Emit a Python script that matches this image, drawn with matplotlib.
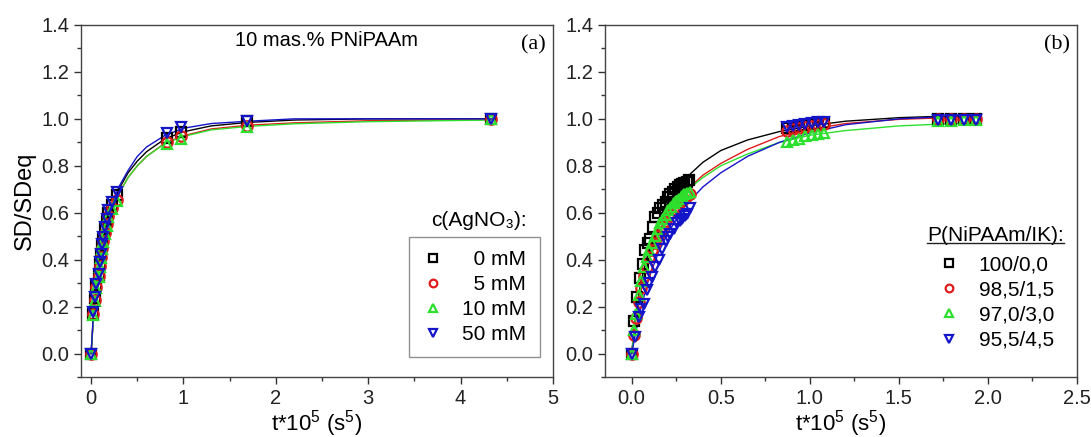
#!/usr/bin/env python

import numpy as np
import matplotlib
matplotlib.use("Agg")
import matplotlib.pyplot as plt
from matplotlib.ticker import MultipleLocator
from matplotlib.lines import Line2D

plt.rcParams['font.family'] = ['Liberation Sans', 'DejaVu Sans']
plt.rcParams['mathtext.fontset'] = 'custom'
plt.rcParams['mathtext.rm'] = 'Liberation Sans'
plt.rcParams['mathtext.it'] = 'Liberation Sans:italic'

# ---- panel (a): c(AgNO3) series, measured points ----
ta = [0, 0.025, 0.043, 0.056, 0.08, 0.092, 0.105, 0.118, 0.133, 0.15, 0.17,
      0.187, 0.224, 0.278, 0.82, 0.97, 1.69, 4.33]
a_0mM = [0, 0.17, 0.235, 0.29, 0.335, 0.38, 0.42, 0.46, 0.49, 0.53, 0.565,
         0.60, 0.635, 0.675, 0.92, 0.945, 0.99, 1.0]
a_5mM = [0, 0.17, 0.23, 0.285, 0.33, 0.375, 0.41, 0.45, 0.48, 0.515, 0.55,
         0.585, 0.62, 0.655, 0.90, 0.925, 0.97, 1.0]
a_10mM = [0, 0.165, 0.225, 0.28, 0.325, 0.37, 0.405, 0.445, 0.475, 0.51, 0.545,
          0.58, 0.615, 0.65, 0.895, 0.916, 0.965, 1.0]
a_50mM = [0, 0.176, 0.24, 0.295, 0.34, 0.39, 0.425, 0.468, 0.497, 0.54, 0.575,
          0.61, 0.646, 0.69, 0.94, 0.966, 0.99, 1.0]

# fitted curves (a)
tfa = [0, 0.025, 0.05, 0.1, 0.15, 0.2, 0.3, 0.4, 0.5, 0.6, 0.8, 1.0, 1.3, 1.7,
       2.2, 3.0, 4.33]
fa_0mM = [0, 0.16, 0.26, 0.40, 0.51, 0.59, 0.70, 0.77, 0.82, 0.86, 0.915,
          0.945, 0.97, 0.985, 0.995, 1.0, 1.0]
fa_5mM = [0, 0.155, 0.25, 0.39, 0.50, 0.58, 0.68, 0.75, 0.80, 0.84, 0.897,
          0.928, 0.957, 0.973, 0.983, 0.992, 0.997]
fa_10mM = [0, 0.155, 0.25, 0.39, 0.50, 0.58, 0.68, 0.75, 0.80, 0.84, 0.895,
           0.925, 0.953, 0.968, 0.979, 0.988, 0.995]
fa_50mM = [0, 0.17, 0.27, 0.41, 0.53, 0.61, 0.71, 0.78, 0.84, 0.88, 0.93,
           0.96, 0.98, 0.99, 1.0, 1.0, 1.0]

# ---- panel (b): P(NiPAAm/IK) series ----
tb_100 = [0, 0.011, 0.03, 0.045, 0.062, 0.077, 0.092, 0.105, 0.12, 0.133, 0.147,
          0.16, 0.175, 0.19, 0.204, 0.217, 0.232, 0.245, 0.258, 0.27, 0.283,
          0.296, 0.31, 0.324, 0.87, 0.905, 0.94, 0.975, 1.01, 1.045, 1.08,
          1.72, 1.79, 1.865, 1.935]
b_100 = [0, 0.14, 0.24, 0.32, 0.38, 0.44, 0.47, 0.49, 0.54, 0.58, 0.60, 0.62,
         0.635, 0.645, 0.665, 0.68, 0.69, 0.70, 0.71, 0.717, 0.722, 0.727,
         0.733, 0.74, 0.96, 0.965, 0.97, 0.973, 0.976, 0.98, 0.983,
         1.0, 1.0, 1.0, 1.0]
tb_gr = [0, 0.012, 0.025, 0.04, 0.055, 0.07, 0.085, 0.1, 0.115, 0.13, 0.145,
         0.16, 0.175, 0.19, 0.205, 0.22, 0.235, 0.25, 0.265, 0.28, 0.295, 0.31,
         0.325, 0.87, 0.905, 0.94, 0.975, 1.01, 1.045, 1.08,
         1.72, 1.79, 1.865, 1.935]
b_985 = [0, 0.08, 0.15, 0.22, 0.28, 0.33, 0.37, 0.41, 0.44, 0.47, 0.50, 0.52,
         0.545, 0.565, 0.585, 0.60, 0.615, 0.63, 0.64, 0.65, 0.66, 0.67, 0.68,
         0.95, 0.955, 0.96, 0.965, 0.97, 0.975, 0.978,
         1.0, 1.0, 1.0, 1.0]
b_970 = [0, 0.10, 0.17, 0.25, 0.31, 0.37, 0.41, 0.44, 0.47, 0.50, 0.53, 0.555,
         0.575, 0.59, 0.61, 0.625, 0.64, 0.65, 0.66, 0.67, 0.68, 0.685, 0.69,
         0.90, 0.91, 0.915, 0.925, 0.93, 0.935, 0.94,
         0.99, 0.99, 0.995, 0.995]
tb_955 = [0, 0.017, 0.039, 0.055, 0.067, 0.086, 0.1, 0.114, 0.133, 0.152, 0.17,
          0.19, 0.204, 0.217, 0.236, 0.255, 0.27, 0.283, 0.297, 0.31, 0.33,
          0.87, 0.905, 0.94, 0.975, 1.01, 1.045, 1.08,
          1.72, 1.79, 1.865, 1.935]
b_955 = [0, 0.07, 0.155, 0.19, 0.21, 0.27, 0.30, 0.325, 0.37, 0.40, 0.445,
         0.48, 0.495, 0.51, 0.53, 0.555, 0.565, 0.575, 0.585, 0.595, 0.62,
         0.965, 0.97, 0.975, 0.978, 0.982, 0.985, 0.988,
         0.995, 0.995, 0.995, 0.995]

# fitted curves (b)
tfb = [0, 0.02, 0.05, 0.1, 0.15, 0.2, 0.3, 0.4, 0.5, 0.65, 0.83, 1.0, 1.2, 1.5,
       1.96]
fb_100 = [0, 0.15, 0.30, 0.45, 0.56, 0.64, 0.745, 0.815, 0.865, 0.91, 0.946,
          0.97, 0.99, 1.005, 1.017]
fb_985 = [0, 0.12, 0.26, 0.40, 0.50, 0.58, 0.69, 0.76, 0.81, 0.87, 0.925,
          0.955, 0.98, 0.998, 1.01]
fb_970 = [0, 0.14, 0.28, 0.42, 0.52, 0.59, 0.69, 0.75, 0.80, 0.85, 0.90,
          0.93, 0.95, 0.97, 0.985]
fb_955 = [0, 0.08, 0.19, 0.33, 0.43, 0.51, 0.63, 0.71, 0.77, 0.84, 0.90,
          0.94, 0.975, 1.0, 1.017]

labels_a = ['  0 mM', '  5 mM', '10 mM', '50 mM']
labels_b = ['100/0,0', '98,5/1,5', '97,0/3,0', '95,5/4,5']
colors = ['black', '#e01b1b', '#2ee02e', '#1414c8']
markers = ['s', 'o', '^', 'v']

fig = plt.figure(figsize=(10.91, 4.37), dpi=100)
ax1 = fig.add_axes([0.0742, 0.1373, 0.4326, 0.8055])
ax2 = fig.add_axes([0.5545, 0.1373, 0.4327, 0.8055])

pts_a = [(ta, a_0mM), (ta, a_5mM), (ta, a_10mM), (ta, a_50mM)]
fit_a = [fa_0mM, fa_5mM, fa_10mM, fa_50mM]
pts_b = [(tb_100, b_100), (tb_gr, b_985), (tb_gr, b_970), (tb_955, b_955)]
fit_b = [fb_100, fb_985, fb_970, fb_955]

for i in range(4):
    ax1.plot(pts_a[i][0], pts_a[i][1], linestyle='none', marker=markers[i],
             mfc='none', mec=colors[i], mew=1.6, ms=7.5, zorder=3)
    ax1.plot(tfa, fit_a[i], color=colors[i], lw=1.0, zorder=2)
    ax2.plot(pts_b[i][0], pts_b[i][1], linestyle='none', marker=markers[i],
             mfc='none', mec=colors[i], mew=1.6, ms=7.5, zorder=3)
    ax2.plot(tfb, fit_b[i], color=colors[i], lw=1.0, zorder=2)

def style(ax, xlim, xmaj, xmin):
    ax.set_xlim(xlim)
    ax.set_ylim(-0.1, 1.4)
    ax.xaxis.set_major_locator(MultipleLocator(xmaj))
    ax.xaxis.set_minor_locator(MultipleLocator(xmin))
    ax.yaxis.set_major_locator(MultipleLocator(0.2))
    ax.yaxis.set_minor_locator(MultipleLocator(0.1))
    ax.tick_params(which='major', direction='out', length=5, width=1,
                   labelsize=14.5, colors='#333333', labelcolor='#222222')
    ax.tick_params(which='minor', direction='out', length=3, width=1,
                   colors='#333333')
    for s in ax.spines.values():
        s.set_color('#444444')
        s.set_linewidth(1.0)
    ax.set_xlabel('t*10$^5$ (s$^5$)', fontsize=16, labelpad=0)

style(ax1, (-0.11, 5), 1, 0.5)
style(ax2, (-0.15, 2.5), 0.5, 0.25)
ax1.yaxis.set_major_formatter(plt.FormatStrFormatter('%.1f'))
ax2.yaxis.set_major_formatter(plt.FormatStrFormatter('%.1f'))
ax2.xaxis.set_major_formatter(plt.FormatStrFormatter('%.1f'))
ax1.set_ylabel('SD/SDeq', fontsize=17, labelpad=4)

ax1.text(0.521, 0.957, '10 mas.% PNiPAAm', transform=ax1.transAxes,
         ha='center', va='center', fontsize=14.5)
ax1.text(0.958, 0.943, '(a)', transform=ax1.transAxes, ha='center',
         va='center', fontsize=16, family='Liberation Serif')
ax2.text(0.958, 0.943, '(b)', transform=ax2.transAxes, ha='center',
         va='center', fontsize=16, family='Liberation Serif')

handles = [Line2D([], [], linestyle='none', marker=markers[i], mfc='none',
                  mec=colors[i], mew=1.6, ms=5.5) for i in range(4)]

ax1.text(0.945, 0.446, 'c(AgNO₃):', transform=ax1.transAxes, ha='right',
         va='center', fontsize=15)
leg1 = ax1.legend(handles, labels_a, loc='upper right',
                  bbox_to_anchor=(0.972, 0.398), fontsize=15, frameon=True,
                  fancybox=False, edgecolor='#777777', handlelength=1.0,
                  handletextpad=0.9, labelspacing=0.28, borderpad=0.65,
                  borderaxespad=0)
leg1.get_frame().set_linewidth(1.0)

t2 = ax2.text(0.972, 0.403, 'P(NiPAAm/IK):', transform=ax2.transAxes,
              ha='right', va='center', fontsize=15)
ax2.legend(handles, labels_b, loc='upper left', bbox_to_anchor=(0.69, 0.37),
           fontsize=15, frameon=False, handlelength=1.0, handletextpad=0.9,
           labelspacing=0.3, borderaxespad=0)

# underline the right legend heading
fig.canvas.draw()
bb = t2.get_window_extent().transformed(fig.transFigure.inverted())
fig.add_artist(Line2D([bb.x0, bb.x1], [bb.y0 + 0.004, bb.y0 + 0.004],
                      transform=fig.transFigure, color='#222222', lw=1.0))

fig.savefig('out.png', dpi=100)
